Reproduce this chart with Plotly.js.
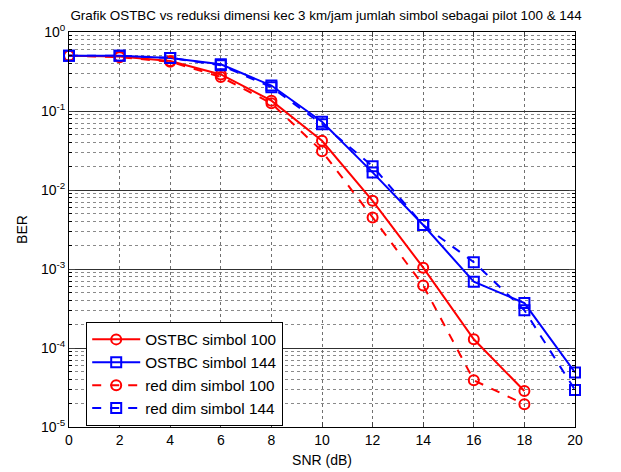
<!DOCTYPE html>
<html><head><meta charset="utf-8">
<script src="https://cdn.plot.ly/plotly-3.0.1.min.js"></script>
<style>html,body{margin:0;padding:0;background:#fff}#c{width:621px;height:472px}</style>
</head><body><div id="c"></div>
<script>
const snr = [0,2,4,6,8,10,12,14,16,18,20];
const snr18 = [0,2,4,6,8,10,12,14,16,18];
const ostbc100 = [0.50,0.49,0.43,0.29,0.135,0.042,0.0073,0.00104,0.000129,0.0000285];
const ostbc144 = [0.50,0.50,0.47,0.39,0.21,0.073,0.0167,0.0036,0.00069,0.00037,0.000049];
const red100 = [0.50,0.48,0.42,0.27,0.125,0.031,0.0045,0.00062,0.000039,0.0000194];
const red144 = [0.50,0.50,0.47,0.38,0.20,0.068,0.0200,0.0036,0.00122,0.00030,0.0000295];
const names = ['OSTBC simbol 100','OSTBC simbol 144','red dim simbol 100','red dim simbol 144'];
const xticks = [0,2,4,6,8,10,12,14,16,18,20];
const decades = [-5,-4,-3,-2,-1,0];

const majorVals = decades.map(d=>Math.pow(10,d));
const majorText = decades.map(d=>'10<sup>'+d+'</sup>');
const minorVals = [];
decades.slice(0,-1).forEach(d=>{for(let k=2;k<=9;k++)minorVals.push(k*Math.pow(10,d));});

function tr(x,y,name,color,dash,sym){
  return {x:x,y:y,name:name,type:'scatter',mode:'lines+markers',cliponaxis:false,
    line:{color:color,width:2,dash:dash},
    marker:{symbol:sym,size:10,color:color,line:{color:color,width:2}}};
}
const data = [
  tr(snr18,ostbc100,names[0],'#ff0000','solid','circle-open'),
  tr(snr,ostbc144,names[1],'#0000ff','solid','square-open'),
  tr(snr18,red100,names[2],'#ff0000','dash','circle-open'),
  tr(snr,red144,names[3],'#0000ff','dash','square-open')
];
const fam = 'Liberation Sans, Arial, sans-serif';
const font = {family:fam,size:14,color:'#000'};
const layout = {
  width:621,height:472,
  margin:{l:69,r:46,t:32,b:45},
  paper_bgcolor:'#fff',plot_bgcolor:'#fff',
  font:font,
  title:{text:'Grafik OSTBC vs reduksi dimensi kec 3 km/jam jumlah simbol sebagai pilot 100 & 144',
    font:{family:fam,size:13.4,color:'#000'},x:0.525,xanchor:'center',y:0.968,yanchor:'middle'},
  xaxis:{range:[0,20],tickmode:'array',tickvals:xticks,ticks:'inside',ticklen:5,
    showline:true,linecolor:'#000',linewidth:1,mirror:'ticks',
    showgrid:true,gridcolor:'#707070',griddash:'dot',gridwidth:1,zeroline:false,
    title:{text:'SNR (dB)',font:font,standoff:8},tickfont:{family:fam,size:14,color:'#000'}},
  yaxis:{type:'log',range:[-5,0],tickmode:'array',tickvals:majorVals,ticktext:majorText,
    ticks:'inside',ticklen:6,showline:true,linecolor:'#000',linewidth:1,mirror:'ticks',
    showgrid:true,gridcolor:'#303030',gridwidth:1,zeroline:false,
    minor:{tickmode:'array',tickvals:minorVals,ticks:'inside',ticklen:3,tickcolor:'#000',
      showgrid:true,gridcolor:'#8a8a8a',griddash:'dot',gridwidth:1},
    title:{text:'BER',font:font,standoff:10},tickfont:{family:fam,size:14,color:'#000'}},
  showlegend:true,
  legend:{x:0.034,y:0.266,xanchor:'left',yanchor:'top',bgcolor:'#fff',bordercolor:'#000',borderwidth:1,
    font:{family:fam,size:15.3,color:'#000'},tracegroupgap:0,itemwidth:48}
};
Plotly.newPlot('c',data,layout,{displayModeBar:false,staticPlot:true});
</script></body></html>
